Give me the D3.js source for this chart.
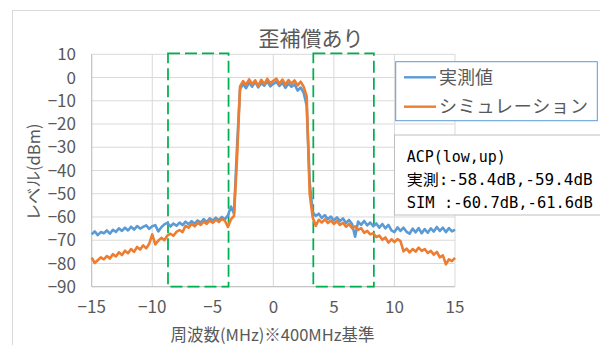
<!DOCTYPE html>
<html>
<head>
<meta charset="utf-8">
<script src="https://cdn.jsdelivr.net/npm/d3@7/dist/d3.min.js"></script>
<style>
  body { margin: 0; background: #fff; }
  text { font-family: "Noto Sans CJK JP", "Noto Sans", sans-serif; fill: #595959; }
</style>
</head>
<body>
<div id="chart"></div>
<script>
// --- data ---
const title = "歪補償あり";
const xTitle = "周波数(MHz)※400MHz基準";
const yTitle = "レベル(dBm)";
const seriesNames = ["実測値", "シミュレーション"];
const xTicks = [-15, -10, -5, 0, 5, 10, 15];
const yTicks = [10, 0, -10, -20, -30, -40, -50, -60, -70, -80, -90];

// frequency points, 0.25 MHz apart
const freq = d3.range(-15, 15.001, 0.25);

// measured (実測値), one row per MHz
const measured = [
  -67.5, -66.2, -67.8, -66.5,
  -67.0, -65.8, -67.2, -65.5,
  -66.4, -64.9, -66.0, -64.6,
  -65.8, -64.2, -65.4, -63.9,
  -65.0, -64.3, -63.6, -65.1,
  -64.0, -63.5, -66.2, -64.4,
  -63.2, -62.5, -64.1, -62.8,
  -63.8, -62.4, -63.5, -62.0,
  -63.1, -61.8, -62.9, -61.5,
  -62.4, -60.9, -62.2, -60.6,
  -61.6, -60.3, -61.4, -60.0,
  -61.0, -59.3, -55.5, -58.5,
  -30.0, -5.0, -2.8, -4.6,
  -2.2, -3.9, -1.8, -4.2,
  -2.4, -3.5, -1.6, -3.8,
  -2.7, -1.9, -3.6, -2.3,
  -4.4, -2.6, -4.0, -2.9,
  -5.6, -4.3, -6.5, -12.0,
  -45.0, -58.0, -59.5, -58.6,
  -60.4, -59.2, -61.0, -59.8,
  -61.5, -60.2, -61.8, -60.6,
  -62.6, -61.3, -63.0, -68.5,
  -62.0, -63.4, -61.7, -63.6,
  -62.4, -64.0, -62.8, -64.6,
  -63.0, -64.9, -63.4, -65.8,
  -66.5, -64.5, -66.0, -64.6,
  -66.4, -67.2, -65.0, -66.6,
  -64.8, -67.0, -65.2, -66.8,
  -64.9, -66.3, -64.3, -66.0,
  -64.6, -66.5, -64.8, -66.2,
  -65.4
];

// simulation (シミュレーション)
const simulated = [
  -77.5, -79.8, -78.6, -77.4,
  -78.2, -76.8, -77.9, -76.0,
  -77.0, -75.2, -76.4, -74.5,
  -75.6, -73.8, -75.0, -72.9,
  -74.0, -72.2, -73.5, -71.5,
  -67.5, -71.8, -70.2, -69.0,
  -70.0, -68.0, -67.2, -68.1,
  -66.4, -65.6, -66.5, -63.8,
  -64.6, -63.0, -64.0, -62.5,
  -63.4, -62.0, -63.0, -61.6,
  -62.5, -61.2, -62.2, -60.8,
  -61.6, -64.3, -61.0, -59.5,
  -35.0, -3.8, -1.5, -3.2,
  -0.8, -2.9, -1.2, -3.6,
  -1.0, -2.8, -0.6, -2.5,
  -1.4, -0.5, -2.7, -0.9,
  -3.0, -1.1, -2.6, -1.2,
  -3.4, -1.8, -3.9, -8.0,
  -50.0, -60.2, -63.8, -61.2,
  -62.4, -61.0, -62.6, -61.5,
  -63.0, -61.8, -63.4, -62.5,
  -64.2, -63.0, -64.9, -64.0,
  -65.6, -64.8, -66.8, -66.0,
  -67.5, -67.0, -68.6, -68.0,
  -69.8, -68.8, -71.0, -69.6,
  -70.8, -69.5, -70.4, -74.8,
  -73.6, -75.2, -73.8, -74.9,
  -73.2, -74.6, -73.8, -75.5,
  -74.6, -76.2, -75.0, -77.4,
  -76.5, -80.4, -78.2, -79.0,
  -77.6
];

// adjacent channel windows (MHz)
const acpBands = [[-8.7, -3.7], [3.3, 8.3]];
const acpLines = ["ACP(low,up)", "実測:-58.4dB,-59.4dB", "SIM :-60.7dB,-61.6dB"];

// --- plot sizes ---
const width = 600, height = 345;
const plot = { left: 91.7, right: 455, top: 54.3, bottom: 286.7 };
const colors = ["#5b9bd5", "#ed7d31"];

const svg = d3.select("#chart").append("svg")
  .attr("width", width)
  .attr("height", height);

svg.append("rect").attr("width", width).attr("height", height).attr("fill", "#fff");

// outer chart frame (runs off the right/bottom of the picture)
svg.append("rect")
  .attr("x", 12.5).attr("y", 10.5)
  .attr("width", width).attr("height", 400)
  .attr("fill", "none").attr("stroke", "#d9d9d9");

// --- scales ---
const x = d3.scaleLinear().domain([-15, 15]).range([plot.left, plot.right]);
const y = d3.scaleLinear().domain([-90, 10]).range([plot.bottom, plot.top]);

// grid
const grid = svg.append("g").attr("class", "grid");
grid.selectAll(".gx").data(xTicks).enter().append("line")
  .attr("x1", d => x(d)).attr("x2", d => x(d))
  .attr("y1", y(10)).attr("y2", y(-90))
  .attr("stroke", "#d9d9d9");
grid.selectAll(".gy").data(yTicks).enter().append("line")
  .attr("x1", x(-15)).attr("x2", x(15))
  .attr("y1", d => y(d)).attr("y2", d => y(d))
  .attr("stroke", "#d9d9d9");

// axis lines
svg.append("line")
  .attr("x1", x(-15)).attr("x2", x(-15)).attr("y1", y(10)).attr("y2", y(-90))
  .attr("stroke", "#bfbfbf");
svg.append("line")
  .attr("x1", x(-15)).attr("x2", x(15)).attr("y1", y(-90)).attr("y2", y(-90))
  .attr("stroke", "#bfbfbf");

// tick labels
const fmt = d => (d < 0 ? "\u2212" + Math.abs(d) : "" + d);
svg.append("g").selectAll("text").data(yTicks).enter().append("text")
  .attr("x", 76).attr("y", d => y(d))
  .attr("dy", "0.36em")
  .attr("text-anchor", "end")
  .style("font-size", "17px")
  .text(fmt);
svg.append("g").selectAll("text").data(xTicks).enter().append("text")
  .attr("x", d => x(d)).attr("y", 313)
  .attr("text-anchor", "middle")
  .style("font-size", "17px")
  .text(fmt);

// axis titles
svg.append("text")
  .attr("x", 272.5).attr("y", 341)
  .attr("text-anchor", "middle")
  .style("font-size", "16.5px")
  .text(xTitle);
svg.append("text")
  .attr("transform", "translate(40,172) rotate(-90)")
  .attr("text-anchor", "middle")
  .style("font-size", "16.5px")
  .text(yTitle);

// chart title
svg.append("text")
  .attr("x", 311).attr("y", 46)
  .attr("text-anchor", "middle")
  .style("font-size", "21px")
  .text(title);

// --- ACP windows ---
svg.append("g").selectAll("rect").data(acpBands).enter().append("rect")
  .attr("x", d => x(d[0]))
  .attr("width", d => x(d[1]) - x(d[0]))
  .attr("y", y(10) - 1)
  .attr("height", y(-90) - y(10) + 1)
  .attr("fill", "none")
  .attr("stroke", "#00b050")
  .attr("stroke-width", 1.75)
  .attr("stroke-dasharray", "12,5");

// --- series ---
const line = d3.line()
  .x(d => x(d[0]))
  .y(d => y(d[1]));

[measured, simulated].forEach((vals, i) => {
  svg.append("path")
    .datum(freq.map((f, j) => [f, vals[j]]))
    .attr("fill", "none")
    .attr("stroke", colors[i])
    .attr("stroke-width", 2.6)
    .attr("stroke-linejoin", "round")
    .attr("d", line);
});

// --- legend ---
const legend = svg.append("g");
legend.append("rect")
  .attr("x", 395.7).attr("y", 61.7)
  .attr("width", 201.6).attr("height", 59)
  .attr("fill", "#fff")
  .attr("stroke", "#5b9bd5");
seriesNames.forEach((name, i) => {
  const ly = 77.3 + i * 29.4;
  legend.append("line")
    .attr("x1", 404).attr("x2", 436)
    .attr("y1", ly).attr("y2", ly)
    .attr("stroke", colors[i]).attr("stroke-width", 2.4);
  legend.append("text")
    .attr("x", 439).attr("y", ly)
    .attr("dy", "0.36em")
    .style("font-size", "18px")
    .style("letter-spacing", i === 1 ? "0.8px" : "0px")
    .text(name);
});

// --- ACP annotation ---
const annot = svg.append("g");
annot.append("rect")
  .attr("x", 394.5).attr("y", 135)
  .attr("width", 230).attr("height", 80)
  .attr("fill", "#fff")
  .attr("stroke", "#bfbfbf");
const annotLen = [99, 186, 186];
annot.selectAll("text").data(acpLines).enter().append("text")
  .attr("x", 406.7)
  .attr("y", (d, i) => 161.5 + i * 23.2)
  .attr("textLength", (d, i) => annotLen[i])
  .attr("lengthAdjust", "spacingAndGlyphs")
  .style("font-family", "'DejaVu Sans Mono', 'Noto Sans CJK JP', monospace")
  .style("font-size", "15px")
  .style("fill", "#000")
  .text(d => d);
</script>
</body>
</html>
